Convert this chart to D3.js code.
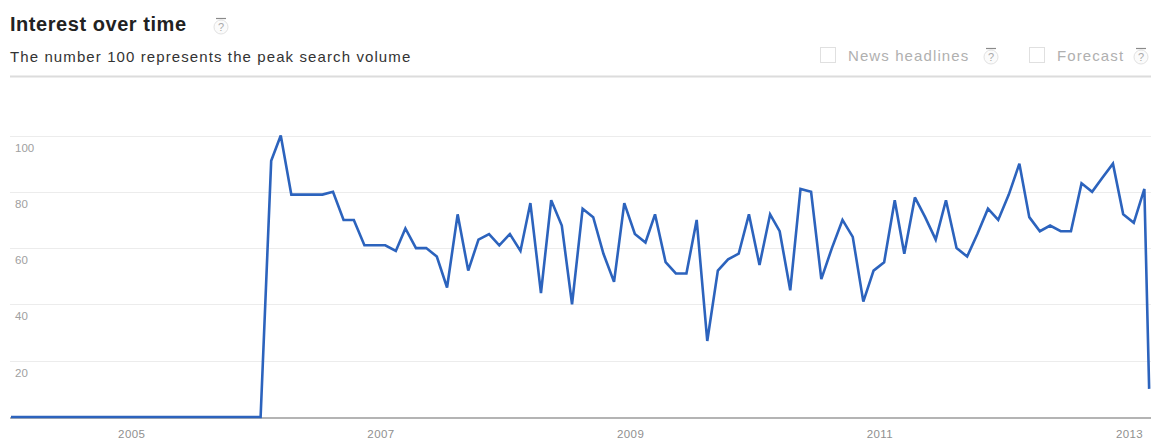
<!DOCTYPE html>
<html>
<head>
<meta charset="utf-8">
<script src="https://cdn.jsdelivr.net/npm/d3@7"></script>
<style>
  html, body { margin: 0; padding: 0; background: #fff; overflow: hidden; }
  svg { display: block; font-family: "Liberation Sans", Arial, Helvetica, sans-serif; }
</style>
</head>
<body>
<svg id="chart" width="1151" height="439"></svg>
<script>
// ---- data ----
const firstMonth = "2004-01";
const lastMonth = "2013-03";
// the final (partial) month is plotted at the date of the snapshot
const lastPointDate = "2013-03-01";
const values = [
  0, 0, 0, 0, 0, 0, 0, 0, 0, 0, 0, 0,          // 2004
  0, 0, 0, 0, 0, 0, 0, 0, 0, 0, 0, 0,          // 2005
  0, 91, 100, 79, 79, 79, 79, 80, 70, 70, 61, 61, // 2006
  61, 59, 67, 60, 60, 57, 46, 72, 52, 63, 65, 61, // 2007
  65, 59, 76, 44, 77, 68, 40, 74, 71, 58, 48, 76, // 2008
  65, 62, 72, 55, 51, 51, 70, 27, 52, 56, 58, 72, // 2009
  54, 72, 66, 45, 81, 80, 49, 60, 70, 64, 41, 52, // 2010
  55, 77, 58, 78, 71, 63, 77, 60, 57, 65, 74, 70, // 2011
  79, 90, 71, 66, 68, 66, 66, 83, 80, 85, 90, 72, // 2012
  69, 81, 10                                       // 2013
];
const yTicks = [20, 40, 60, 80, 100];
const xTickYears = ["2005", "2007", "2009", "2011", "2013"];

const titleText = "Interest over time";
const subtitleText = "The number 100 represents the peak search volume";
const optionLabels = ["News headlines", "Forecast"];

// ---- layout ----
const W = 1151, H = 439;
const svg = d3.select("#chart");

const parseMonth = d3.timeParse("%Y-%m");
const parseDay = d3.timeParse("%Y-%m-%d");
const months = d3.timeMonth.range(parseMonth(firstMonth), d3.timeMonth.offset(parseMonth(lastMonth), 1));
const points = months.map((m, i) => ({
  date: i === months.length - 1 ? parseDay(lastPointDate) : new Date(m.getFullYear(), m.getMonth(), 15),
  value: values[i]
}));

const x = d3.scaleTime()
  .domain([new Date(2004, 0, 1), new Date(2013, 0, 1)])
  .range([6.2, 1129]);
const y = d3.scaleLinear().domain([0, 100]).range([417, 135.5]);

// ---- header ----
svg.append("text")
  .attr("x", 10).attr("y", 31)
  .attr("font-size", 20).attr("font-weight", "bold")
  .attr("letter-spacing", 0.55)
  .attr("fill", "#222")
  .text(titleText);

function helpIcon(cx, cy) {
  const g = svg.append("g").attr("transform", `translate(${cx},${cy})`);
  g.append("circle").attr("r", 7).attr("fill", "#fbfbfb").attr("stroke", "#e2e2e2").attr("stroke-width", 1);
  g.append("line").attr("x1", -5).attr("x2", 5).attr("y1", -8.5).attr("y2", -8.5)
    .attr("stroke", "#8a8a8a").attr("stroke-width", 1.2);
  g.append("text").attr("text-anchor", "middle").attr("y", 4).attr("font-size", 11)
    .attr("fill", "#aaa").text("?");
}
helpIcon(221, 27);

svg.append("text")
  .attr("x", 10).attr("y", 62)
  .attr("font-size", 15)
  .attr("letter-spacing", 1.1)
  .attr("fill", "#333")
  .text(subtitleText);

// options at right
const opts = [{ box: 820, text: 848, help: 991 }, { box: 1029, text: 1057, help: 1141 }];
opts.forEach((o, i) => {
  svg.append("rect").attr("x", o.box + 0.5).attr("y", 47.5).attr("width", 15).attr("height", 15)
    .attr("fill", "#fff").attr("stroke", "#e0e0e0");
  svg.append("text").attr("x", o.text).attr("y", 61)
    .attr("font-size", 15).attr("letter-spacing", 1.1).attr("fill", "#b0b0b0")
    .text(optionLabels[i]);
  helpIcon(o.help, 57);
});

svg.append("line")
  .attr("x1", 10).attr("x2", W).attr("y1", 76.5).attr("y2", 76.5)
  .attr("stroke", "#dcdcdc").attr("stroke-width", 2);

// ---- grid & y labels ----
const grid = svg.append("g");
grid.selectAll("line").data(yTicks).join("line")
  .attr("x1", 10).attr("x2", W)
  .attr("y1", d => Math.round(y(d)) + 0.5).attr("y2", d => Math.round(y(d)) + 0.5)
  .attr("stroke", "#ececec").attr("stroke-width", 1);
grid.selectAll("text").data(yTicks).join("text")
  .attr("x", 15).attr("y", d => y(d) + 16)
  .attr("font-size", 11.5).attr("fill", "#a0a0a0")
  .text(d => d);

// ---- x axis ----
const xAxis = d3.axisBottom(x)
  .tickValues(xTickYears.map(s => d3.timeParse("%Y")(s)))
  .tickFormat(d3.timeFormat("%Y"))
  .tickSize(0).tickPadding(0);
const gx = svg.append("g").attr("transform", `translate(0,${y(0) + 21})`).call(xAxis);
gx.select(".domain").remove();
gx.selectAll("text")
  .attr("font-family", "Liberation Sans, Arial, sans-serif")
  .attr("font-size", 11.5).attr("letter-spacing", 0.4).attr("fill", "#909090")
  .attr("dy", 0);

svg.append("line")
  .attr("x1", 10).attr("x2", W).attr("y1", y(0) + 1).attr("y2", y(0) + 1)
  .attr("stroke", "#b4b4b4").attr("stroke-width", 2);

// ---- line ----
const line = d3.line().x(d => x(d.date)).y(d => y(d.value));
svg.append("path")
  .datum(points)
  .attr("d", line)
  .attr("fill", "none")
  .attr("stroke", "#2c63bd")
  .attr("stroke-width", 2.6)
  .attr("stroke-linejoin", "miter")
  .attr("stroke-miterlimit", 3);
</script>
</body>
</html>
